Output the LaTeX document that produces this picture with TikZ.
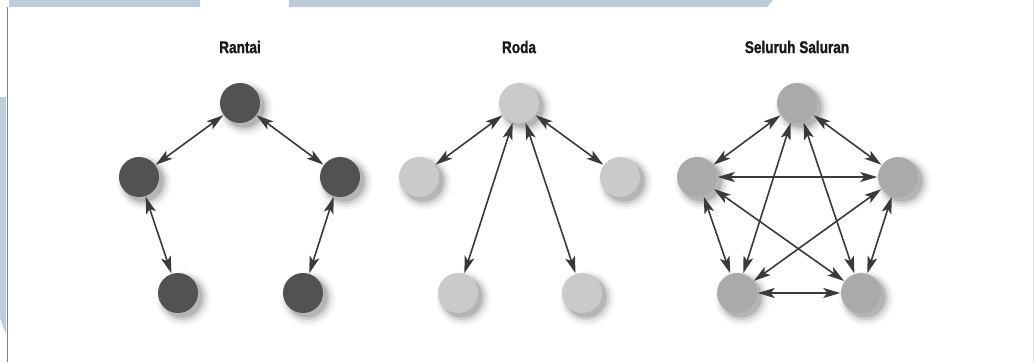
\documentclass[tikz,border=0pt]{standalone}
\usepackage{fontspec}
\newfontfamily\titlefont[FakeStretch=0.8,FakeBold=1.2]{Liberation Sans}
\usetikzlibrary{arrows.meta,shadows}
\definecolor{bandblue}{RGB}{188,204,218}
\definecolor{edgegray}{RGB}{130,130,130}
\definecolor{darkdot}{RGB}{82,82,82}
\definecolor{lightdot}{RGB}{202,202,202}
\definecolor{middot}{RGB}{170,170,170}
\definecolor{arrowgray}{RGB}{58,58,58}
\definecolor{titlegray}{RGB}{25,25,25}
\tikzset{
  softshadow/.style={
    general shadow={fill=black,opacity=0.04,shadow scale=1.36,shadow xshift=4pt,shadow yshift=-4pt},
    general shadow={fill=black,opacity=0.06,shadow scale=1.24,shadow xshift=4pt,shadow yshift=-4pt},
    general shadow={fill=black,opacity=0.09,shadow scale=1.13,shadow xshift=4pt,shadow yshift=-4pt},
    general shadow={fill=black,opacity=0.13,shadow scale=1.03,shadow xshift=4pt,shadow yshift=-4pt}},
  dot/.style={circle,minimum size=40pt,inner sep=0pt,draw=none,softshadow},
  rantaidot/.style={dot,fill=darkdot},
  rodadot/.style={dot,fill=lightdot},
  semuadot/.style={dot,fill=middot},
  link/.style={draw=arrowgray,line width=1.6pt,
    {Stealth[length=17pt,width=10pt,inset=4pt]}-{Stealth[length=17pt,width=10pt,inset=4pt]},
    shorten <=0.5pt,shorten >=0.5pt},
  title/.style={font=\titlefont\bfseries\fontsize{17}{19}\selectfont,text=titlegray,inner sep=0pt}
}
\begin{document}
\begin{tikzpicture}[x=1pt,y=-1pt]
\useasboundingbox (0,0) rectangle (1035,362);
\fill[white] (0,0) rectangle (1035,362);
% background decoration
\fill[bandblue] (9,0) rectangle (200,7);
\fill[bandblue] (289,0) -- (773,0) -- (767,7) -- (289,7) -- cycle;
\fill[bandblue] (0,97) -- (6,97) -- (6,334) -- (0,318) -- cycle;
\draw[edgegray,line width=1.5pt] (7.5,7) -- (7.5,362);
\draw[black!12,line width=0.8pt] (1033,0) -- (1033,362);
% titles
\node[title] (t1) at (240,47) {Rantai};
\node[title] (t2) at (519,47) {Roda};
\node[title] (t3) at (797,47) {Seluruh Saluran};
% Rantai
\node[rantaidot] (a0) at (240,103) {};
\node[rantaidot] (a1) at (139,177) {};
\node[rantaidot] (a2) at (340,177) {};
\node[rantaidot] (a3) at (178,293) {};
\node[rantaidot] (a4) at (303,293) {};
% Roda
\node[rodadot] (b0) at (519,103) {};
\node[rodadot] (b1) at (419,177) {};
\node[rodadot] (b2) at (620,177) {};
\node[rodadot] (b3) at (458,293) {};
\node[rodadot] (b4) at (582,293) {};
% Seluruh Saluran
\node[semuadot] (c0) at (797,103) {};
\node[semuadot] (c1) at (697,177) {};
\node[semuadot] (c2) at (898,177) {};
\node[semuadot] (c3) at (737,293) {};
\node[semuadot] (c4) at (861,293) {};
% links
\draw[link] (a0) -- (a1);
\draw[link] (a0) -- (a2);
\draw[link] (a1) -- (a3);
\draw[link] (a2) -- (a4);
\draw[link] (b0) -- (b1);
\draw[link] (b0) -- (b2);
\draw[link] (b0) -- (b3);
\draw[link] (b0) -- (b4);
\draw[link] (c0) -- (c1);
\draw[link] (c0) -- (c2);
\draw[link] (c0) -- (c3);
\draw[link] (c0) -- (c4);
\draw[link] (c1) -- (c2);
\draw[link] (c1) -- (c3);
\draw[link] (c1) -- (c4);
\draw[link] (c2) -- (c3);
\draw[link] (c2) -- (c4);
\draw[link] (c3) -- (c4);
\end{tikzpicture}
\end{document}
